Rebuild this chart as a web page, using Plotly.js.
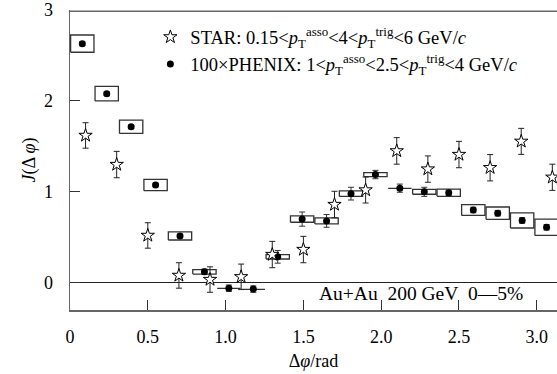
<!DOCTYPE html>
<html>
<head>
<meta charset="utf-8">
<script src="https://cdn.plot.ly/plotly-3.0.1.min.js"></script>
<style>html,body{margin:0;padding:0;background:#fff;}#chart{width:557px;height:374px;}</style>
</head>
<body>
<div id="chart"></div>
<script>
// PHENIX (x100) data: bin centres, values, statistical and systematic errors
const phenixX = [0.079, 0.236, 0.393, 0.550, 0.707, 0.864, 1.021, 1.178, 1.335, 1.492,
                 1.649, 1.806, 1.963, 2.120, 2.277, 2.434, 2.592, 2.749, 2.906, 3.063];
const phenixY = [2.63, 2.08, 1.715, 1.075, 0.515, 0.12, -0.06, -0.07, 0.285, 0.70,
                 0.68, 0.98, 1.19, 1.04, 1.00, 0.99, 0.80, 0.765, 0.685, 0.61];
const phenixStat = [0.02, 0.02, 0.02, 0.02, 0.02, 0.03, 0.035, 0.035, 0.07, 0.078,
                    0.07, 0.07, 0.046, 0.045, 0.05, 0.03, 0.03, 0.03, 0.03, 0.03];
const phenixSys = [0.095, 0.08, 0.073, 0.062, 0.045, 0.025, 0.003, 0.003, 0.024, 0.035,
                   0.033, 0.031, 0.022, 0.003, 0.027, 0.04, 0.06, 0.068, 0.083, 0.09];

// STAR data
const starX = [0.1, 0.3, 0.5, 0.7, 0.9, 1.1, 1.3, 1.5, 1.7, 1.9, 2.1, 2.3, 2.5, 2.7, 2.9, 3.1];
const starY = [1.62, 1.30, 0.52, 0.08, 0.035, 0.065, 0.31, 0.365, 0.86, 1.02,
               1.45, 1.25, 1.41, 1.265, 1.555, 1.16];
const starErr = [0.14, 0.145, 0.14, 0.14, 0.14, 0.14, 0.145, 0.145, 0.146, 0.143,
                 0.146, 0.145, 0.145, 0.145, 0.143, 0.144];

// tick labels
const xTickVals = [0, 0.5, 1.0, 1.5, 2.0, 2.5, 3.0];
const xTickText = ['0', '0.5', '1.0', '1.5', '2.0', '2.5', '3.0'];
const yTickVals = [0, 1, 2, 3];
const yTickText = ['0', '1', '2', '3'];

const starName = 'STAR: 0.15&lt;<i>p</i><sub>T</sub><sup>asso</sup>&lt;4&lt;<i>p</i><sub>T</sub><sup>trig</sup>&lt;6 GeV/<i>c</i>';
const phenixName = '100×PHENIX: 1&lt;<i>p</i><sub>T</sub><sup>asso</sup>&lt;2.5&lt;<i>p</i><sub>T</sub><sup>trig</sup>&lt;4 GeV/<i>c</i>';
const annotText = 'Au+Au\u00a0\u00a0200 GeV\u00a0\u00a00\u20145%';

// systematic boxes built from the data
const boxHalfW = 0.075;
const boxX = [], boxY = [];
for (let i = 0; i < phenixX.length; i++) {
  const x0 = phenixX[i] - boxHalfW, x1 = phenixX[i] + boxHalfW;
  const y0 = phenixY[i] - phenixSys[i], y1 = phenixY[i] + phenixSys[i];
  boxX.push(x0, x1, x1, x0, x0, null);
  boxY.push(y0, y0, y1, y1, y0, null);
}

const FONT = 'Liberation Serif';

const traces = [
  {
    x: boxX, y: boxY, mode: 'lines', type: 'scatter',
    line: {color: '#333', width: 1.3}, showlegend: false, hoverinfo: 'skip'
  },
  {
    x: phenixX, y: phenixY, type: 'scatter', mode: 'markers', name: phenixName,
    legendrank: 2,
    marker: {symbol: 'circle', size: 7, color: '#000'},
    error_y: {type: 'data', array: phenixStat, visible: true, color: '#333', thickness: 1, width: 3}
  },
  {
    x: starX, y: starY, type: 'scatter', mode: 'markers', name: starName,
    legendrank: 1,
    marker: {symbol: 'star', size: 10, color: '#fff', line: {color: '#000', width: 1}},
    error_y: {type: 'data', array: starErr, visible: true, color: '#222', thickness: 1, width: 3}
  }
];

const layout = {
  width: 557, height: 374,
  margin: {l: 70, r: 0, t: 10, b: 64},
  paper_bgcolor: '#fff', plot_bgcolor: '#fff',
  font: {family: FONT, size: 18, color: '#000'},
  showlegend: true,
  legend: {
    x: 0.165, y: 0.972, xanchor: 'left', yanchor: 'top',
    bgcolor: 'rgba(0,0,0,0)', borderwidth: 0,
    font: {family: FONT, size: 18.5, color: '#000'},
    tracegroupgap: 0
  },
  xaxis: {
    range: [0, 3.13], showgrid: false, zeroline: false,
    showline: true, linecolor: '#666', linewidth: 1.5, mirror: false,
    ticks: 'inside', ticklen: 10, tickcolor: '#333', tickwidth: 1,
    tickmode: 'array', tickvals: xTickVals, ticktext: xTickText,
    ticklabelstandoff: 10, ticklabeloverflow: 'allow',
    tickfont: {family: FONT, size: 18},
    title: {text: 'Δ<i>φ</i>/rad', font: {family: FONT, size: 18}, standoff: 8}
  },
  yaxis: {
    range: [-0.3, 3.0], showgrid: false,
    zeroline: true, zerolinecolor: '#222', zerolinewidth: 1,
    showline: true, linecolor: '#666', linewidth: 1.5, mirror: false,
    ticks: 'inside', ticklen: 10, tickcolor: '#333', tickwidth: 1,
    tickmode: 'array', tickvals: yTickVals, ticktext: yTickText,
    ticklabelstandoff: 12, ticklabeloverflow: 'allow',
    tickfont: {family: FONT, size: 18},
    title: {text: '<i>J</i>(Δ <i>φ</i>)', font: {family: FONT, size: 18}, standoff: 3}
  },
  shapes: [
    {type: 'line', xref: 'paper', yref: 'paper', x0: 0, x1: 1, y0: 0.996, y1: 0.996,
     layer: 'above', line: {color: '#666', width: 1.5}}
  ],
  annotations: [
    {
      xref: 'x', yref: 'y', x: 2.256, y: -0.12, xanchor: 'center', yanchor: 'middle',
      text: annotText, showarrow: false, font: {family: FONT, size: 19.5, color: '#000'}
    }
  ]
};

Plotly.newPlot('chart', traces, layout, {displayModeBar: false, staticPlot: true});
</script>
</body>
</html>
